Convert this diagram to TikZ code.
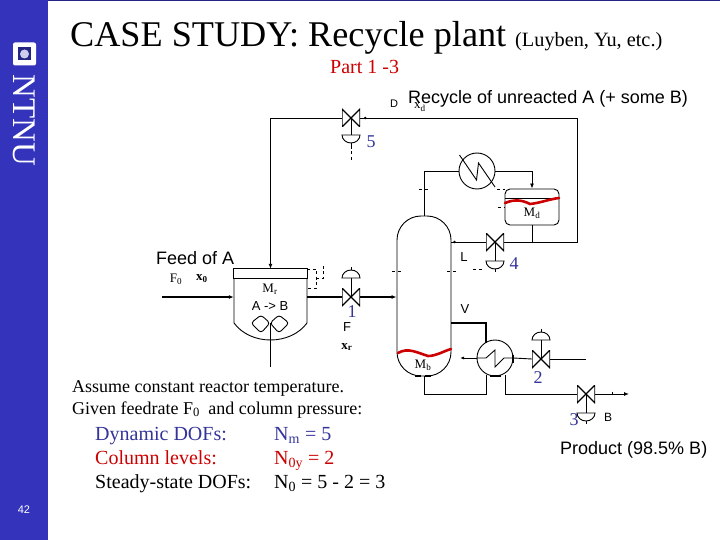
\documentclass[tikz,border=0pt]{standalone}
\usepackage{fontspec}
\setmainfont{Liberation Serif}
\setsansfont{Liberation Sans}
\usepackage{xcolor}
\definecolor{ntnublue}{HTML}{3333BB}
\definecolor{slate}{HTML}{333399}
\definecolor{levelred}{HTML}{CC0000}
\usetikzlibrary{arrows.meta,positioning,calc}
\tikzset{
    pipe/.style={draw=black, line width=0.9pt},
    feedpipe/.style={draw=black, line width=1.8pt},
    signal/.style={draw=black, line width=0.7pt, dash pattern=on 3pt off 2.5pt},
    flow/.style={-{Latex[length=5pt,width=4pt]}},
    level/.style={draw=levelred, line width=2.6pt, line cap=round},
    valve/.style={minimum size=18pt, inner sep=0pt, path picture={
        \draw[line width=1.2pt] (path picture bounding box.north west) -- (path picture bounding box.south east)
          -- (path picture bounding box.north east) -- (path picture bounding box.south west) -- cycle;}},
    vessel/.style={draw=black, line width=0.9pt, inner sep=0pt},
    hx/.style={circle, draw=black, line width=0.9pt, minimum size=36pt, inner sep=0pt},
    ctrlnum/.style={font=\fontsize{18}{18}\selectfont, text=slate, inner sep=0pt},
    tag/.style={font=\fontsize{13}{13}\selectfont, inner sep=0pt},
    sftag/.style={font=\sffamily\fontsize{13}{13}\selectfont, inner sep=0pt},
    caption/.style={font=\sffamily\fontsize{18}{18}\selectfont, inner sep=0pt, anchor=base west},
    note/.style={font=\fontsize{18}{18}\selectfont, inner sep=0pt, anchor=base west},
    dof/.style={font=\fontsize{20}{20}\selectfont, inner sep=0pt, anchor=base west},
    actdown/.pic={
      \draw[line width=0.9pt] (-9,0) -- (9,0) arc (0:180:9 and 8) -- cycle;
      \draw[line width=0.9pt] (0,8) -- (0,11);},
    actup/.pic={
      \draw[line width=0.9pt] (-9,0) -- (9,0) arc (0:180:9 and -8) -- cycle;
      \draw[line width=0.9pt] (0,-8) -- (0,-11);}
}
\begin{document}
\begin{tikzpicture}[x=1pt, y=-1pt]
  \useasboundingbox (0,0) rectangle (720,540);

  % NTNU side bar
  \fill[ntnublue] (0,0) rectangle (48,540);
  \fill[ntnublue!70!black] (48,0) rectangle (720,1);
  \node[fill=white, rounded corners=2pt, minimum size=23pt, inner sep=0pt] (logo) at (24.5,54) {};
  \node[fill=ntnublue!70!black, minimum size=13pt, inner sep=0pt] (logoin) at (logo) {};
  \node[circle, fill=ntnublue!25, minimum size=9pt, inner sep=0pt] (logodot) at (logo) {};
  \node[rotate=-90, text=white, font=\fontsize{33}{33}\selectfont, inner sep=0pt] (ntnu) at (24.5,120.5) {NTNU};
  \node[text=white, font=\sffamily\fontsize{11}{11}\selectfont, inner sep=0pt] (page) at (24,510) {42};

  % Headings
  \node[inner sep=0pt, anchor=base west, font=\fontsize{36.2}{36.2}\selectfont] (title) at (70,47) {CASE STUDY: Recycle plant};
  \node[inner sep=0pt, anchor=base west, font=\fontsize{20.3}{20.3}\selectfont] (authors) at (515,47) {(Luyben, Yu, etc.)};
  \node[inner sep=0pt, anchor=base west, text=levelred, font=\fontsize{20}{20}\selectfont] (part) at (330,74) {Part 1 -3};

  % Vessels
  \node[vessel, rounded corners=24pt, minimum width=54pt, minimum height=160pt] (column) at (424,296) {};
  \node[vessel, rounded corners=5pt, minimum width=54pt, minimum height=36pt] (drum) at (532,207) {};
  \node[hx] (cond) at (477,171) {};
  \node[hx] (reb) at (495,358) {};
  \node[minimum width=73pt, minimum height=71pt, inner sep=0pt] (reactor) at (270.5,304.5) {};
  \draw[pipe] (reactor.north west) rectangle (307,278);
  \draw[pipe] (234,278) -- (234,323) .. controls (242,334) and (256,340) .. (270.5,340)
      .. controls (285,340) and (299,334) .. (307,323) -- (307,278);

  % Valves
  \node[valve] (v5) at (351,118) {};
  \node[valve] (v4) at (495,242) {};
  \node[valve] (v1) at (351,297) {};
  \node[valve] (v2) at (541,359) {};
  \node[valve] (v3) at (586,394) {};

  % Actuators
  \draw[pipe] (v5.center) -- ++(0,17) pic {actdown};
  \draw[pipe] (v4.center) -- ++(0,19) pic {actdown};
  \draw[pipe] (v3.center) -- ++(0,19) pic {actdown};
  \draw[pipe] (v1.center) -- ++(0,-19) pic {actup};
  \draw[pipe] (v2.center) -- ++(0,-19) pic {actup};
  \draw[signal] ($(v5.center)+(0,28)$) -- ($(v5.center)+(0,44)$);

  % Reactor internals
  \coordinate (shafttop) at (270,323);
  \coordinate (shaftend) at (270,367);
  \draw[pipe] (shafttop) -- (shaftend);
  \draw[pipe, rounded corners=3pt] (shafttop) -- (261,315) -- (251,323) -- (261,333) -- cycle;
  \draw[pipe, rounded corners=3pt] (shafttop) -- (279,315) -- (289,323) -- (279,333) -- cycle;

  % Main streams
  \coordinate (feedin) at (162,297);
  \draw[feedpipe, flow] (feedin) -- (feedin -| reactor.west);
  \draw[feedpipe] (reactor.east |- v1) -- (v1.west);
  \draw[feedpipe, flow] (v1.east) -- (v1.east -| column.west);

  % Recycle loop
  \coordinate (recycle) at (577,242);
  \draw[pipe, flow] (v5.west) -- (v5.west -| reactor) -- (reactor.north);
  \draw[pipe] (v4.east) -- (recycle) |- (v5.east);
  \draw[pipe] (drum.south) -- (drum.south |- v4);
  \draw[pipe] (v4.west) -- (v4.west -| column.east);
  \fill (v4.west -| column.east) ++(3,0) circle (1.4);
  \fill (v5.east) ++(5,0) circle (1.4);

  % Overhead and condenser
  \draw[pipe] (column.north) |- (cond.west);
  \draw[pipe, flow] (cond.east) -| (drum.north);
  \draw[pipe] (459.5,155) -- (476.5,180) -- (478.5,163) -- (495,187);
  \draw[pipe] (505,198) -- (559,198);

  % Reboiler circuit
  \coordinate (rebin) at (486,343);
  \draw[feedpipe] (column.east |- 0,323) -| (rebin);
  \draw[pipe] (column.south) |- (486,394) -- (486,375);
  \draw[pipe] (505,375) |- (v3.west);
  \draw[pipe, flow] (v3.east) -- (629,394);
  \draw[pipe] (612,391.5) -- (612,394);
  \draw[pipe] (v2.west) -- (reb.east);
  \draw[pipe] (v2.east) -- (586,359);
  \draw[pipe, -{Latex[length=4pt,width=3pt]}] (reb.west) -- (460,358);
  \draw[pipe] (reb.west) -- (486,358) -- (495,350) -- (495,367) -- (504,358) -- (reb.east);

  % Selection marks left on the vessels
  \draw[line width=1.4pt] (415,376) -- (421,376) (425,376) -- (431,376);
  \draw[line width=1.4pt] (490,376) -- (501,376);
  \draw[line width=1.4pt] (513,355) -- (513,363);

  % Levels
  \draw[level] (505,203) .. controls (515,199) and (522,200) .. (530,204) .. controls (540,203) and (550,199) .. (559,198);
  \draw[level] (398,353) .. controls (408,347) and (418,353) .. (428,356) .. controls (436,356) and (444,351) .. (451,349);

  % Signal stubs
  \draw[signal] (307,269) -- (316,269) -- (316,288) -- (307,288);
  \draw[signal] (316,278) -- (323,278) -- (323,265);
  \draw[signal] (392,271) -- (402,271);
  \draw[signal] (447,271) -- (456,271);
  \draw[signal] (419,189) -- (429,189);
  \draw[signal] (497,189) -- (505,189);
  \draw[signal] (498,207) -- (505,207);
  \draw[signal] (473,269) -- (482,269);

  % Stream tags
  \node[sftag, font=\sffamily\fontsize{11}{11}\selectfont] (tagd) at (394,104) {D};
  \node[tag] (tagxd) at (420,107) {x\textsubscript{d}};
  \node[tag] (tagf0) at (176,279) {F\textsubscript{0}};
  \node[tag, font=\bfseries\fontsize{13}{13}\selectfont] (tagx0) at (202,279) {x\textsubscript{0}};
  \node[tag] (tagmr) at (270,289) {M\textsubscript{r}};
  \node[sftag] (tagab) at (270,306) {A -> B};
  \node[sftag] (tagf) at (347,327) {F};
  \node[tag, font=\bfseries\fontsize{13}{13}\selectfont] (tagxr) at (347,347) {x\textsubscript{r}};
  \node[tag] (tagmd) at (532,213) {M\textsubscript{d}};
  \node[tag] (tagmb) at (423,365) {M\textsubscript{b}};
  \node[sftag] (tagl) at (464,257) {L};
  \node[sftag] (tagv) at (465,309) {V};
  \node[sftag, font=\sffamily\fontsize{12}{12}\selectfont] (tagb) at (608,417) {B};

  % Control numbers
  \node[ctrlnum] (n5) at (371,142) {5};
  \node[ctrlnum] (n4) at (514,264) {4};
  \node[ctrlnum] (n1) at (352,312) {1};
  \node[ctrlnum] (n2) at (538,378) {2};
  \node[ctrlnum] (n3) at (574,420) {3};

  % Captions
  \node[caption] (recy) at (408,104) {Recycle of unreacted A (+ some B)};
  \node[caption] (feed) at (156,264) {Feed of A};
  \node[caption] (prod) at (560,454) {Product (98.5\% B)};

  % Notes and degrees of freedom
  \node[note] (note1) at (72,392) {Assume constant reactor temperature.};
  \node[note] (note2) at (72,414) {Given feedrate F\textsubscript{0}\hspace{4pt} and column pressure:};
  \node[dof, text=slate] (dof1) at (95,440) {Dynamic DOFs:};
  \node[dof, text=slate] (val1) at (274,440) {N\textsubscript{m} = 5};
  \node[dof, text=levelred] (dof2) at (95,464) {Column levels:};
  \node[dof, text=levelred] (val2) at (274,464) {N\textsubscript{0y} = 2};
  \node[dof] (dof3) at (95,488) {Steady-state DOFs:};
  \node[dof] (val3) at (274,488) {N\textsubscript{0} = 5 - 2 = 3};
\end{tikzpicture}
\end{document}
